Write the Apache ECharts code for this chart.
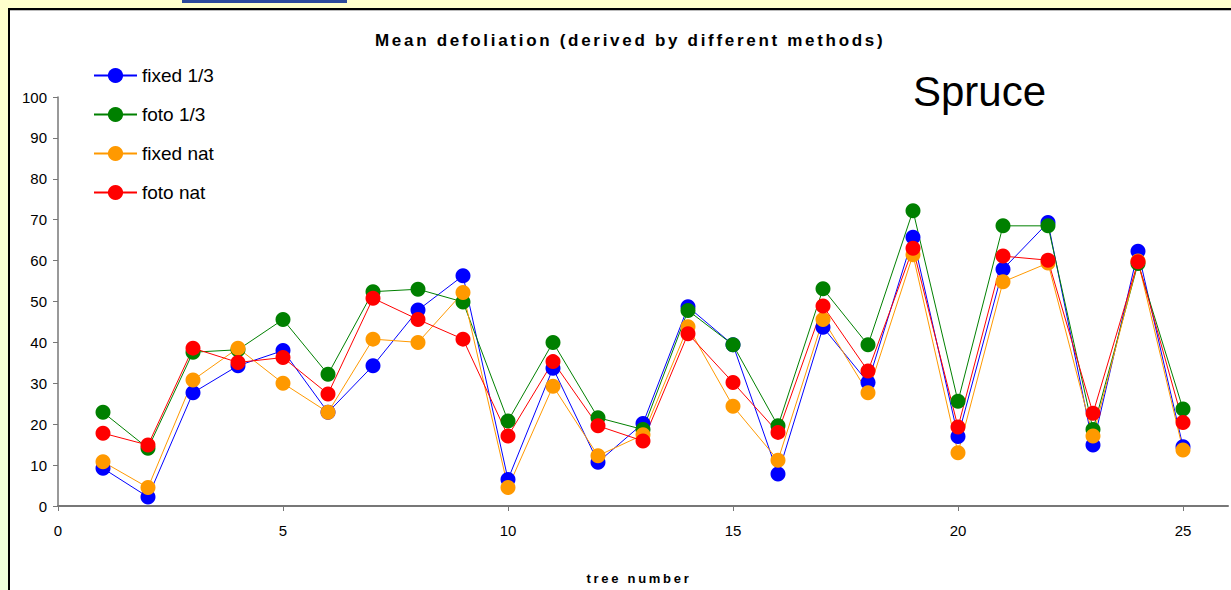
<!DOCTYPE html>
<html>
<head>
<meta charset="utf-8">
<script src="https://cdn.jsdelivr.net/npm/echarts@6/dist/echarts.min.js"></script>
<style>
  html, body { margin: 0; padding: 0; }
  body {
    width: 1231px; height: 590px; overflow: hidden; position: relative;
    background: linear-gradient(#FFFFCC, #EEFFDA);
  }
  #topbar { position: absolute; left: 182px; top: 0; width: 165px; height: 3px; background: #2D4A9C; }
  #frame {
    position: absolute; left: 8px; top: 8px; width: 1240px; height: 600px;
    background: #fff; border-left: 2px solid #000; border-top: 2px solid #000;
    box-shadow: inset 0 1px 0 #bbb;
  }
  #main { position: absolute; left: 0; top: 0; width: 1231px; height: 590px; }
  /* the bold texts of the original are letter-spaced */
  #main text[style*="bold"] { letter-spacing: 2.7px; }
</style>
</head>
<body>
<div id="topbar"></div>
<div id="frame"></div>
<div id="main"></div>
<script>
// tree numbers and the four series (mean defoliation, %)
const trees = [1, 2, 3, 4, 5, 6, 7, 8, 9, 10, 11, 12, 13, 14, 15, 16, 17, 18, 19, 20, 21, 22, 23, 24, 25]
const fixed13 = [9.2, 2.2, 27.7, 34.3, 38.0, 22.9, 34.3, 47.9, 56.3, 6.5, 33.7, 10.7, 20.2, 48.7, 39.4, 7.8, 43.7, 30.2, 65.7, 17.0, 57.9, 69.3, 14.9, 62.3, 14.5]
const foto13 = [22.9, 14.1, 37.6, 38.2, 45.6, 32.2, 52.4, 53.0, 49.9, 20.8, 40.0, 21.6, 18.7, 47.8, 39.4, 19.6, 53.1, 39.4, 72.2, 25.6, 68.5, 68.5, 18.7, 59.3, 23.7]
const fixedNat = [10.8, 4.5, 30.8, 38.6, 30.0, 22.9, 40.8, 40.0, 52.2, 4.5, 29.3, 12.3, 17.4, 43.8, 24.4, 11.2, 45.6, 27.7, 61.4, 13.0, 54.8, 59.4, 17.1, 59.9, 13.7]
const fotoNat = [17.8, 14.9, 38.6, 35.1, 36.3, 27.4, 50.8, 45.6, 40.8, 17.1, 35.3, 19.6, 15.9, 42.1, 30.2, 18.0, 48.9, 33.0, 63.0, 19.3, 61.1, 60.1, 22.7, 59.7, 20.4]
const seriesNames = ['fixed 1/3', 'foto 1/3', 'fixed nat', 'foto nat']
const xTicks = [0, 5, 10, 15, 20, 25]

const FONT = 'Liberation Sans, Arial, sans-serif'
const COLORS = ['#0000FF', '#008000', '#FF9900', '#FF0000']

function pairs (vals) {
  return trees.map((t, i) => [t, vals[i]])
}

const chart = echarts.init(document.getElementById('main'), null, { renderer: 'svg' })

const option = {
  animation: false,
  textStyle: { fontFamily: FONT },
  title: {
    text: 'Mean defoliation (derived by different methods)',
    left: 370,
    top: 27,
    textStyle: { fontFamily: FONT, fontSize: 17, fontWeight: 'bold', color: '#000' }
  },
  graphic: [
    {
      type: 'text',
      left: 913,
      top: 70,
      style: { text: 'Spruce', font: '42px ' + FONT, fill: '#000' }
    }
  ],
  legend: {
    orient: 'vertical',
    left: 88,
    top: 61,
    itemWidth: 43,
    itemHeight: 19,
    itemGap: 20,
    textStyle: { fontFamily: FONT, fontSize: 19, color: '#000', lineHeight: 19 },
    data: seriesNames
  },
  grid: { left: 58, right: 3, top: 97, bottom: 84, outerBoundsMode: 'none' },
  xAxis: {
    type: 'value',
    min: 0,
    max: 26,
    interval: 5,
    name: 'tree number',
    nameLocation: 'middle',
    nameGap: 66,
    nameTextStyle: { fontFamily: FONT, fontSize: 13, fontWeight: 'bold', color: '#000', padding: [0, 8, 0, 0] },
    splitLine: { show: false },
    axisLine: { lineStyle: { color: '#777', width: 2 } },
    axisTick: { length: 5, lineStyle: { color: '#777' }, customValues: xTicks },
    axisLabel: { fontFamily: FONT, fontSize: 15, color: '#000', margin: 17, customValues: xTicks }
  },
  yAxis: {
    type: 'value',
    min: 0,
    max: 100,
    interval: 10,
    splitLine: { show: false },
    axisLine: { show: true, lineStyle: { color: '#777', width: 1.5 } },
    axisTick: { show: true, length: 5, lineStyle: { color: '#777' } },
    axisLabel: { fontFamily: FONT, fontSize: 15, color: '#000', margin: 11 }
  },
  series: [fixed13, foto13, fixedNat, fotoNat].map((vals, i) => ({
    name: seriesNames[i],
    type: 'line',
    data: pairs(vals),
    symbol: 'circle',
    symbolSize: 15,
    color: COLORS[i],
    lineStyle: { width: 1, color: COLORS[i] },
    itemStyle: { color: COLORS[i] }
  }))
}

chart.setOption(option)
</script>
</body>
</html>
